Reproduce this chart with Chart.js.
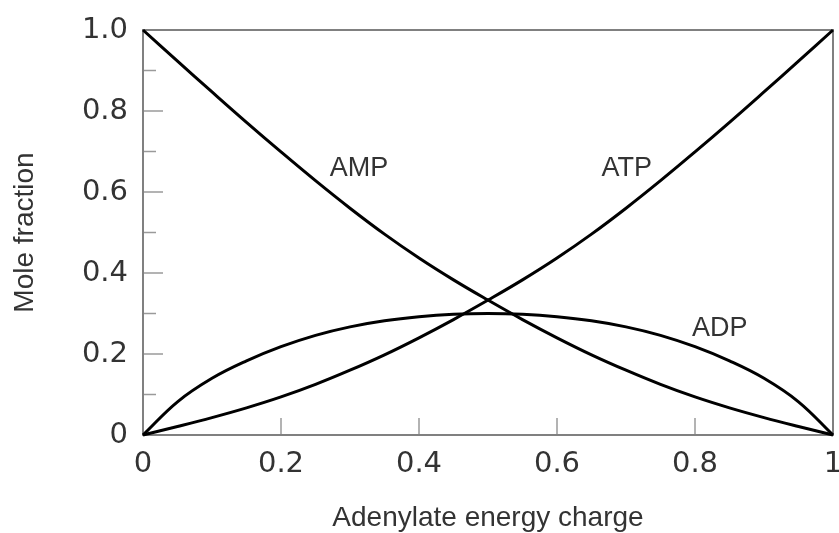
<!DOCTYPE html>
<html>
<head>
<meta charset="utf-8">
<script src="https://cdn.jsdelivr.net/npm/chart.js@4.4.1/dist/chart.umd.min.js"></script>
<style>
  html, body { margin: 0; padding: 0; background: #fff; }
</style>
</head>
<body>
<canvas id="chargeChart" width="839" height="533"></canvas>
<script>
// Adenylate energy charge (x axis)
const charge = [0, 0.05, 0.1, 0.15, 0.2, 0.25, 0.3, 0.35, 0.4, 0.45, 0.5,
                0.55, 0.6, 0.65, 0.7, 0.75, 0.8, 0.85, 0.9, 0.95, 1];

// Mole fractions
const amp = [1, 0.923, 0.847, 0.772, 0.699, 0.628, 0.56, 0.496, 0.437, 0.383, 0.333,
             0.285, 0.24, 0.198, 0.16, 0.125, 0.094, 0.067, 0.043, 0.021, 0];
const atp = [0, 0.021, 0.043, 0.067, 0.094, 0.125, 0.16, 0.198, 0.24, 0.285, 0.333,
             0.383, 0.437, 0.496, 0.56, 0.628, 0.699, 0.772, 0.847, 0.923, 1];
const adp = [0, 0.082, 0.14, 0.183, 0.218, 0.246, 0.267, 0.282, 0.292, 0.298, 0.3,
             0.298, 0.292, 0.282, 0.267, 0.246, 0.218, 0.183, 0.14, 0.082, 0];

const curveNames = ['AMP', 'ATP', 'ADP'];

// Tick labels
const xTickLabels = ['0', '0.2', '0.4', '0.6', '0.8', '1'];
const yTickLabels = ['0', '0.2', '0.4', '0.6', '0.8', '1.0'];
const xInnerTicks = [0.2, 0.4, 0.6, 0.8];
const yMajorTicks = [0.2, 0.4, 0.6, 0.8];
const yMinorTicks = [0.1, 0.3, 0.5, 0.7, 0.9];

const textColor = '#333';
const tickFont = { family: '"DejaVu Sans"', size: 29 };
const titleFont = { family: '"Liberation Sans", Arial, sans-serif', size: 28, lineHeight: 1 };

function toPoints(ys) {
  return charge.map((c, i) => ({ x: c, y: ys[i] }));
}

// frame with inward tick marks
const framePlugin = {
  id: 'frame',
  beforeDatasetsDraw(chart) {
    const { ctx, chartArea: a, scales: { x, y } } = chart;
    ctx.save();
    ctx.strokeStyle = '#9a9a9a';
    ctx.lineWidth = 1.5;
    yMajorTicks.forEach(v => {
      const py = y.getPixelForValue(v);
      ctx.beginPath(); ctx.moveTo(a.left, py); ctx.lineTo(a.left + 20, py); ctx.stroke();
    });
    yMinorTicks.forEach(v => {
      const py = y.getPixelForValue(v);
      ctx.beginPath(); ctx.moveTo(a.left, py); ctx.lineTo(a.left + 13, py); ctx.stroke();
    });
    xInnerTicks.forEach(v => {
      const px = x.getPixelForValue(v);
      ctx.beginPath(); ctx.moveTo(px, a.bottom); ctx.lineTo(px, a.bottom - 17); ctx.stroke();
    });
    ctx.strokeStyle = '#808080';
    ctx.lineWidth = 2;
    ctx.strokeRect(a.left, a.top, a.right - a.left, a.bottom - a.top);
    ctx.restore();
  }
};

// curve names written next to each line
const curveLabelPlugin = {
  id: 'curveLabels',
  afterDatasetsDraw(chart) {
    const { ctx, scales: { x, y } } = chart;
    const spots = [[0.313, 0.657], [0.701, 0.657], [0.836, 0.262]];
    ctx.save();
    ctx.font = '27px "Liberation Sans", Arial, sans-serif';
    ctx.fillStyle = textColor;
    ctx.textAlign = 'center';
    ctx.textBaseline = 'middle';
    curveNames.forEach((name, i) => {
      ctx.fillText(name, x.getPixelForValue(spots[i][0]), y.getPixelForValue(spots[i][1]));
    });
    ctx.restore();
  }
};

const series = [amp, atp, adp];

new Chart(document.getElementById('chargeChart'), {
  type: 'line',
  data: {
    datasets: series.map((s, i) => ({
      label: curveNames[i],
      data: toPoints(s),
      borderColor: '#000',
      borderWidth: 3,
      pointRadius: 0,
      fill: false,
      tension: 0.4,
      clip: 4
    }))
  },
  options: {
    responsive: false,
    animation: false,
    layout: { padding: { top: 30, right: 6, bottom: 0, left: 0 } },
    plugins: {
      legend: { display: false },
      tooltip: { enabled: false }
    },
    scales: {
      x: {
        type: 'linear',
        min: 0,
        max: 1,
        grid: { display: false },
        border: { display: false },
        ticks: {
          stepSize: 0.2,
          color: textColor,
          font: tickFont,
          padding: 4,
          maxRotation: 0,
          callback: v => xTickLabels[Math.round(v / 0.2)]
        },
        title: {
          display: true,
          text: 'Adenylate energy charge',
          color: textColor,
          font: titleFont,
          padding: { top: 0, bottom: 1 }
        },
        afterFit: s => { s.height = 98; s.paddingLeft = 0; s.paddingRight = 0; }
      },
      y: {
        min: 0,
        max: 1,
        grid: { display: false },
        border: { display: false },
        ticks: {
          stepSize: 0.2,
          color: textColor,
          font: tickFont,
          padding: 7,
          callback: v => yTickLabels[Math.round(v / 0.2)]
        },
        title: {
          display: true,
          text: 'Mole fraction',
          color: textColor,
          font: titleFont,
          padding: { top: 11, bottom: 0 }
        },
        afterFit: s => { s.width = 143; }
      }
    }
  },
  plugins: [framePlugin, curveLabelPlugin]
});
</script>
</body>
</html>
